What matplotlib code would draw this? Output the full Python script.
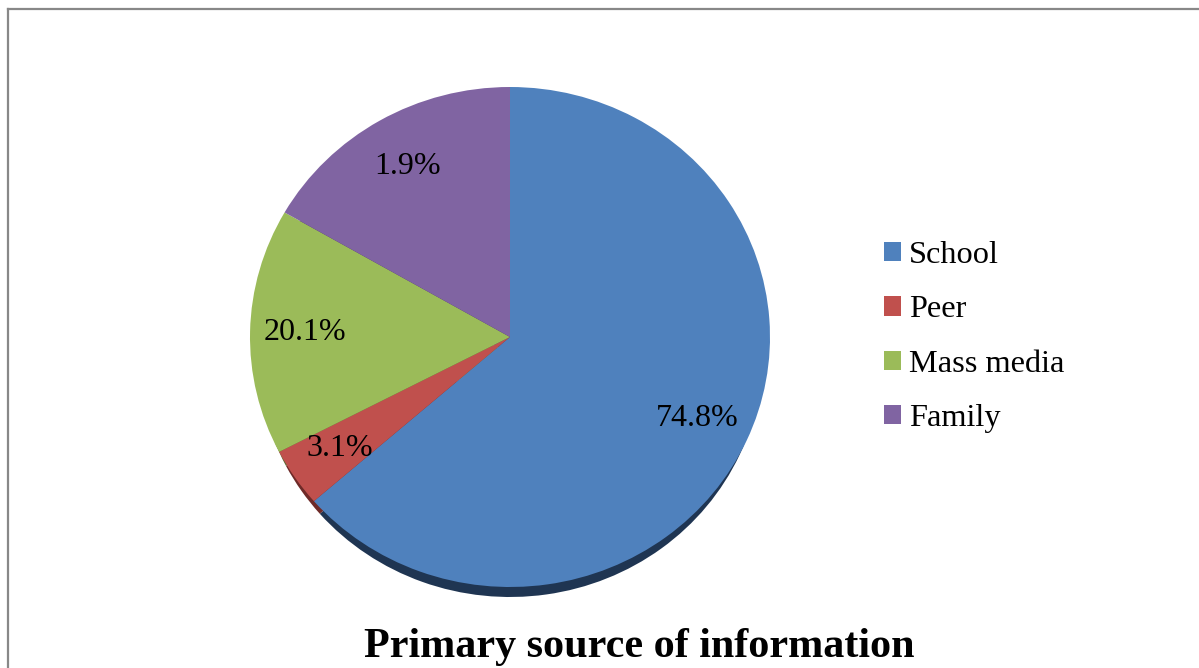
import matplotlib
matplotlib.use("Agg")
import matplotlib.pyplot as plt
from matplotlib.lines import Line2D
from matplotlib.patches import Patch

# categories and slice sizes (read from the drawn wedges, percent)
sources = ["School", "Peer", "Mass media", "Family"]
slice_sizes = [63.6, 3.8, 15.9, 16.7]
# data labels as printed on the chart
pct_labels = ["74.8%", "3.1%", "20.1%", "1.9%"]

colors = ["#4F81BD", "#C0504D", "#9BBB59", "#8064A2"]
shadow_colors = ["#1F3552", "#6E2A28", "#56682F", "#463759"]

plt.rcParams["font.family"] = ["Liberation Serif", "DejaVu Serif"]

fig = plt.figure(figsize=(11.99, 6.68), dpi=100)
W, H = 1199.0, 668.0

# pie centre at (510, 337) px, rx 260 px, ry 250 px
ax = fig.add_axes([(510 - 325) / W, (H - 337 - 312.5) / H, 650 / W, 625 / H])

# shadow underneath: a bit smaller and shifted down so only the bottom edge shows
ax.pie(slice_sizes, colors=shadow_colors, startangle=90, counterclock=False,
       radius=0.97, center=(0, -0.07), wedgeprops=dict(linewidth=0))
wedges, texts, autotexts = ax.pie(slice_sizes, colors=colors, startangle=90,
                                  counterclock=False, autopct="%1.1f%%",
                                  pctdistance=0.79,
                                  wedgeprops=dict(linewidth=0),
                                  textprops=dict(fontsize=23, color="black"))
for t, s in zip(autotexts, pct_labels):
    t.set_text(s)

ax.set_aspect("auto")
ax.set_xlim(-1.25, 1.25)
ax.set_ylim(-1.25, 1.25)
ax.axis("off")

handles = [Patch(facecolor=c, edgecolor="none") for c in colors]
fig.legend(handles, sources, loc="center left",
           bbox_to_anchor=(884 / W, (H - 337) / H), frameon=False,
           fontsize=23.3, handlelength=0.53, handleheight=0.53,
           handletextpad=0.25, borderpad=0, borderaxespad=0,
           labelspacing=0.775)

fig.text(639 / W, (H - 647) / H, "Primary source of information",
         ha="center", va="center", fontsize=30.3, fontweight="bold")

# chart area border (top and left visible)
fig.add_artist(Line2D([7.5 / W, 7.5 / W], [0, (H - 8.5) / H],
                      transform=fig.transFigure, color="#888888", lw=1.6))
fig.add_artist(Line2D([7.5 / W, 1], [(H - 8.5) / H, (H - 8.5) / H],
                      transform=fig.transFigure, color="#888888", lw=1.6))

fig.savefig("out.png", dpi=100)
